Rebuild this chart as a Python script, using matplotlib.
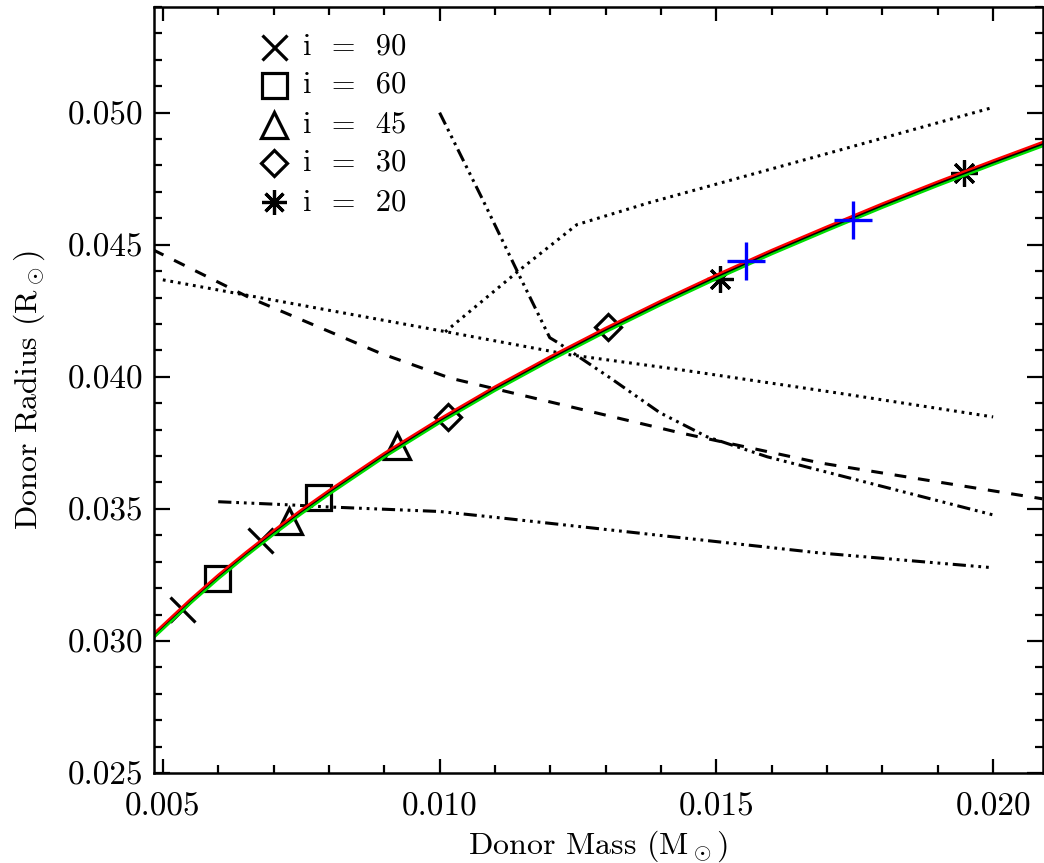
import matplotlib
matplotlib.use("Agg")
import matplotlib.pyplot as plt
from matplotlib.ticker import MultipleLocator, FormatStrFormatter

plt.rcParams['font.family'] = ['cmr10', 'DejaVu Serif']
plt.rcParams['mathtext.fontset'] = 'cm'
plt.rcParams['axes.formatter.use_mathtext'] = True
plt.rcParams['lines.scale_dashes'] = False

# model mass-radius curves
mass_grid = [0.0048, 0.0055, 0.006, 0.0065, 0.007, 0.0075, 0.008, 0.009, 0.010, 0.011,
             0.012, 0.013, 0.014, 0.015, 0.016, 0.017, 0.018, 0.019, 0.020, 0.021]
radius_black = [0.03013, 0.03150, 0.03242, 0.03328, 0.03410, 0.03488, 0.03562, 0.03703, 0.03833, 0.03955,
                0.04069, 0.04177, 0.04280, 0.04378, 0.04472, 0.04561, 0.04648, 0.04731, 0.04811, 0.04889]
radius_red = [0.03021, 0.03158, 0.03250, 0.03336, 0.03418, 0.03496, 0.03570, 0.03711, 0.03841, 0.03963,
              0.04077, 0.04185, 0.04288, 0.04386, 0.04480, 0.04569, 0.04656, 0.04739, 0.04819, 0.04897]
radius_green = [0.03005, 0.03142, 0.03234, 0.03320, 0.03402, 0.03480, 0.03554, 0.03695, 0.03825, 0.03947,
                0.04061, 0.04169, 0.04272, 0.04370, 0.04464, 0.04553, 0.04640, 0.04723, 0.04803, 0.04881]

# other constraint lines
dash_m = [0.00482, 0.00657, 0.00892, 0.01019, 0.01434, 0.01687, 0.02089]
dash_r = [0.04481, 0.04299, 0.04090, 0.03995, 0.03788, 0.03674, 0.03538]

dot_low_m = [0.0050, 0.01013, 0.01236, 0.01434, 0.01718, 0.0200]
dot_low_r = [0.04367, 0.04170, 0.04083, 0.04027, 0.03939, 0.03848]

dot_up_m = [0.0101, 0.01145, 0.01248, 0.0138, 0.0170, 0.0200]
dot_up_r = [0.0417, 0.04405, 0.04576, 0.0466, 0.04845, 0.0502]

steep_m = [0.0100, 0.01078, 0.01145, 0.01199, 0.01214, 0.01254, 0.01308, 0.01398,
           0.01483, 0.01592, 0.01718, 0.0200]
steep_r = [0.0500, 0.04670, 0.04379, 0.04148, 0.04129, 0.04072, 0.03996, 0.03864,
           0.03773, 0.03697, 0.03629, 0.03477]

flat_m = [0.0060, 0.0073, 0.0079, 0.0100, 0.01109, 0.01687, 0.0200]
flat_r = [0.03527, 0.03515, 0.03508, 0.0349, 0.03466, 0.03333, 0.03277]

# solutions for each inclination
i90_m = [0.00534, 0.00675]
i90_r = [0.03121, 0.03383]
i60_m = [0.00598, 0.00780]
i60_r = [0.03239, 0.03545]
i45_m = [0.00728, 0.00923]
i45_r = [0.03455, 0.03739]
i30_m = [0.01015, 0.01304]
i30_r = [0.03848, 0.04189]
i20_m = [0.01507, 0.01948]
i20_r = [0.04371, 0.04773]
blue_m = [0.01554, 0.01747]
blue_r = [0.04439, 0.04595]

legend_labels = ['i  =  90', 'i  =  60', 'i  =  45', 'i  =  30', 'i  =  20']

fig = plt.figure(figsize=(10.44, 8.63), dpi=100)
ax = fig.add_axes([0.1475, 0.1043, 0.8515, 0.8876])

mk = dict(linestyle='none', mfc='none', mec='black', mew=2.3, color='black')
star = (8, 2, 0)
ax.plot(i90_m, i90_r, marker='x', ms=18, **mk)
ax.plot(i60_m, i60_r, marker='s', ms=18, **mk)
ax.plot(i45_m, i45_r, marker='^', ms=19, **mk)
ax.plot(i30_m, i30_r, marker='D', ms=13, **mk)
ax.plot(i20_m, i20_r, marker=star, ms=19, **mk)

lw = 2.2
ax.plot(dash_m, dash_r, color='black', lw=lw, dashes=(8.5, 8.5))
ax.plot(dot_low_m, dot_low_r, color='black', lw=lw, dashes=(2, 3.5))
ax.plot(dot_up_m, dot_up_r, color='black', lw=lw, dashes=(2, 3.5))
ddd = (9.5, 3.5, 2, 3.5, 2, 3.5, 2, 3.5)
ax.plot(steep_m, steep_r, color='black', lw=lw, dashes=ddd)
ax.plot(flat_m, flat_r, color='black', lw=lw, dashes=ddd)

ax.plot(mass_grid, radius_black, color='black', lw=2.3)
ax.plot(mass_grid, radius_red, color='red', lw=1.7)
ax.plot(mass_grid, radius_green, color='#00dd00', lw=1.7)

ax.plot(blue_m, blue_r, marker='+', ms=27, mew=2.4, color='blue', linestyle='none')

# legend by hand
leg_markers = ['x', 's', '^', 'D', star]
leg_sizes = [18, 18, 19, 13, 18]
leg_y = [0.948, 0.898, 0.846, 0.796, 0.745]
for m, s, yy, lab in zip(leg_markers, leg_sizes, leg_y, legend_labels):
    ax.plot([0.135], [yy], marker=m, ms=s, transform=ax.transAxes, **mk)
    ax.text(0.1676, yy, lab, transform=ax.transAxes, fontsize=22, va='center', ha='left')

ax.set_xlim(0.00484, 0.0209)
ax.set_ylim(0.025, 0.0540)

ax.xaxis.set_major_locator(MultipleLocator(0.005))
ax.xaxis.set_minor_locator(MultipleLocator(0.001))
ax.yaxis.set_major_locator(MultipleLocator(0.005))
ax.yaxis.set_minor_locator(MultipleLocator(0.001))
ax.xaxis.set_major_formatter(FormatStrFormatter('%.3f'))
ax.yaxis.set_major_formatter(FormatStrFormatter('%.3f'))

ax.tick_params(which='both', direction='in', top=True, right=True, width=1.6)
ax.tick_params(axis='x', which='major', length=10, pad=14, labelsize=24)
ax.tick_params(axis='y', which='major', length=11.5, pad=8, labelsize=24)
ax.tick_params(which='minor', length=5.5)
for sp in ax.spines.values():
    sp.set_linewidth(1.8)

ax.set_xlabel(r'Donor Mass (M$_\odot$)', fontsize=23)
ax.set_ylabel(r'Donor Radius (R$_\odot$)', fontsize=23)
ax.xaxis.set_label_coords(0.5, -0.072)
ax.yaxis.set_label_coords(-0.12, 0.5)

fig.savefig('out.png', dpi=100)
